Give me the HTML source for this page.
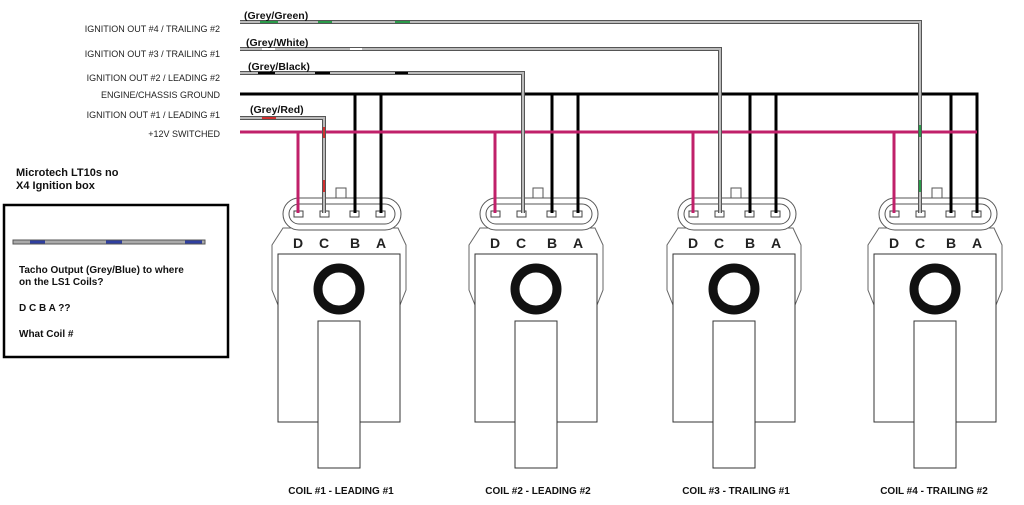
<!DOCTYPE html>
<html><head><meta charset="utf-8"><style>
body{margin:0;background:#fff}
svg{display:block}
text{font-family:"Liberation Sans",Arial,sans-serif}
</style></head><body>
<svg width="1024" height="505" viewBox="0 0 1024 505" xmlns="http://www.w3.org/2000/svg">
<defs>
<g id="coil">
  <rect x="336" y="188" width="10" height="11" fill="#fff" stroke="#555" stroke-width="1"/>
  <path d="M283 228 L272 245 L272 290 L278 305 L400 305 L406 290 L406 245 L398 228 Z" fill="#fff" stroke="#666" stroke-width="1"/>
  <rect x="278" y="254" width="122" height="168" fill="#fff" stroke="#333" stroke-width="1"/>
  <rect x="283" y="198" width="118" height="32" rx="16" fill="#fff" stroke="#555" stroke-width="1"/>
  <rect x="289" y="204" width="106" height="20" rx="10" fill="#fff" stroke="#555" stroke-width="1"/>
  <rect x="294" y="211" width="9" height="6" fill="#fff" stroke="#444" stroke-width="1"/>
  <rect x="320" y="211" width="9" height="6" fill="#fff" stroke="#444" stroke-width="1"/>
  <rect x="350" y="211" width="9" height="6" fill="#fff" stroke="#444" stroke-width="1"/>
  <rect x="376" y="211" width="9" height="6" fill="#fff" stroke="#444" stroke-width="1"/>
  <g font-size="14" font-weight="bold" fill="#222" text-anchor="middle"><text x="298" y="248">D</text><text x="324" y="248">C</text><text x="355" y="248">B</text><text x="381" y="248">A</text></g>
  <circle cx="339" cy="289" r="21" fill="none" stroke="#111" stroke-width="9"/>
  <rect x="318" y="321" width="42" height="147" fill="#fff" stroke="#333" stroke-width="1"/>
</g>
</defs>
<use href="#coil"/>
<use href="#coil" x="197"/>
<use href="#coil" x="395"/>
<use href="#coil" x="596"/>
<g stroke="#000" stroke-width="3" fill="none">
  <path d="M240 94 H977 V213"/>
  <line x1="355" y1="94" x2="355" y2="213"/><line x1="381" y1="94" x2="381" y2="213"/>
  <line x1="552" y1="94" x2="552" y2="213"/><line x1="578" y1="94" x2="578" y2="213"/>
  <line x1="750" y1="94" x2="750" y2="213"/><line x1="776" y1="94" x2="776" y2="213"/>
  <line x1="951" y1="94" x2="951" y2="213"/>
</g>
<g stroke="#c0206a" stroke-width="3" fill="none">
  <path d="M240 132 H977"/>
  <line x1="298" y1="132" x2="298" y2="213"/><line x1="495" y1="132" x2="495" y2="213"/>
  <line x1="693" y1="132" x2="693" y2="213"/><line x1="894" y1="132" x2="894" y2="213"/>
</g>
<g fill="none" stroke="#555" stroke-width="4">
  <path d="M240 22 H920 V213"/><path d="M240 49 H720 V213"/><path d="M240 73 H523 V213"/><path d="M240 118 H324 V213"/>
</g>
<g fill="none" stroke="#bbb" stroke-width="2">
  <path d="M240 22 H920 V213"/><path d="M240 49 H720 V213"/><path d="M240 73 H523 V213"/><path d="M240 118 H324 V213"/>
</g>
<g stroke-width="2">
  <g stroke="#2a9a4a"><line x1="260" y1="22" x2="278" y2="22"/><line x1="318" y1="22" x2="332" y2="22"/><line x1="395" y1="22" x2="410" y2="22"/><line x1="920" y1="125" x2="920" y2="137"/><line x1="920" y1="180" x2="920" y2="192"/></g>
  <g stroke="#fff"><line x1="262" y1="49" x2="275" y2="49"/><line x1="350" y1="49" x2="362" y2="49"/></g>
  <g stroke="#000"><line x1="258" y1="73" x2="275" y2="73"/><line x1="315" y1="73" x2="330" y2="73"/><line x1="395" y1="73" x2="408" y2="73"/></g>
  <g stroke="#d03030"><line x1="262" y1="118" x2="276" y2="118"/><line x1="324" y1="127" x2="324" y2="138"/><line x1="324" y1="180" x2="324" y2="192"/></g>
</g>
<g font-size="10.5" font-weight="bold" fill="#111">
  <text x="244" y="19">(Grey/Green)</text><text x="246" y="46">(Grey/White)</text>
  <text x="248" y="70">(Grey/Black)</text><text x="250" y="113">(Grey/Red)</text>
</g>
<g font-size="9" fill="#222" text-anchor="end">
  <text x="220" y="32">IGNITION OUT #4 / TRAILING #2</text>
  <text x="220" y="57">IGNITION OUT #3 / TRAILING #1</text>
  <text x="220" y="81">IGNITION OUT #2 / LEADING #2</text>
  <text x="220" y="98">ENGINE/CHASSIS GROUND</text>
  <text x="220" y="118">IGNITION OUT #1 / LEADING #1</text>
  <text x="220" y="137">+12V SWITCHED</text>
</g>
<g font-size="11" font-weight="bold" fill="#111">
  <text x="16" y="176">Microtech LT10s no</text>
  <text x="16" y="189">X4 Ignition box</text>
</g>
<rect x="4" y="205" width="224" height="152" fill="none" stroke="#000" stroke-width="2.5"/>
<rect x="13" y="240" width="192" height="4" fill="#aaa" stroke="#555" stroke-width="1"/>
<g stroke="#3040a0" stroke-width="3"><line x1="30" y1="242" x2="45" y2="242"/><line x1="106" y1="242" x2="122" y2="242"/><line x1="185" y1="242" x2="202" y2="242"/></g>
<g font-size="10" font-weight="bold" fill="#111">
  <text x="19" y="273">Tacho Output (Grey/Blue) to where</text>
  <text x="19" y="285">on the LS1 Coils?</text>
  <text x="19" y="311">D C B A ??</text>
  <text x="19" y="337">What Coil #</text>
</g>
<g font-size="10" font-weight="bold" fill="#111" text-anchor="middle">
  <text x="341" y="494">COIL #1 - LEADING #1</text>
  <text x="538" y="494">COIL #2 - LEADING #2</text>
  <text x="736" y="494">COIL #3 - TRAILING #1</text>
  <text x="934" y="494">COIL #4 - TRAILING #2</text>
</g>
</svg>
</body></html>
